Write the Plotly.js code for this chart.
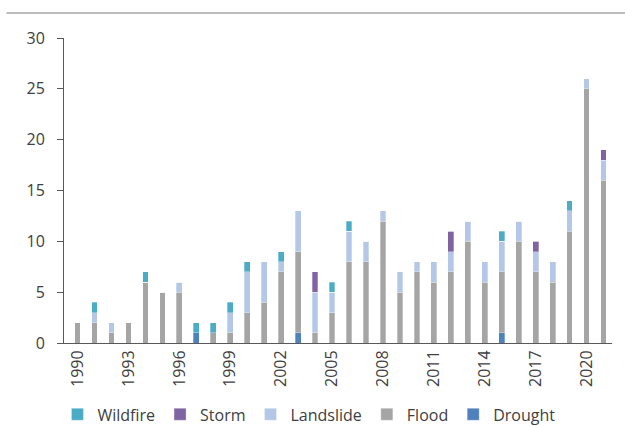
<!DOCTYPE html>
<html>
<head>
<meta charset="utf-8">
<script src="https://cdn.plot.ly/plotly-3.0.1.min.js"></script>
<style>html,body{margin:0;padding:0;background:#fff;}#chart{width:625px;height:427px;}</style>
</head>
<body>
<div id="chart"></div>
<script>
const years = [1990,1991,1992,1993,1994,1995,1996,1997,1998,1999,2000,2001,2002,2003,2004,2005,2006,2007,2008,2009,2010,2011,2012,2013,2014,2015,2016,2017,2018,2019,2020,2021];
const drought   = [0,0,0,0,0,0,0,1,0,0,0,0,0,1,0,0,0,0,0,0,0,0,0,0,0,1,0,0,0,0,0,0];
const flood     = [2,2,1,2,6,5,5,0,1,1,3,4,7,8,1,3,8,8,12,5,7,6,7,10,6,6,10,7,6,11,25,16];
const landslide = [0,1,1,0,0,0,1,0,0,2,4,4,1,4,4,2,3,2,1,2,1,2,2,2,2,3,2,2,2,2,1,2];
const storm     = [0,0,0,0,0,0,0,0,0,0,0,0,0,0,2,0,0,0,0,0,0,0,2,0,0,0,0,1,0,0,0,1];
const wildfire  = [0,1,0,0,1,0,0,1,1,1,1,0,1,0,0,1,1,0,0,0,0,0,0,0,0,1,0,0,0,1,0,0];
const tickYears = [1990,1993,1996,1999,2002,2005,2008,2011,2014,2017,2020];

const series = [
  {name:'Drought', y:drought, color:'#4F81BD'},
  {name:'Flood', y:flood, color:'#A5A5A5'},
  {name:'Landslide', y:landslide, color:'#B4C7E7'},
  {name:'Storm', y:storm, color:'#8064A2'},
  {name:'Wildfire', y:wildfire, color:'#4BACC6'}
];
const traces = series.map(s => ({
  type:'bar', name:s.name, x:years, y:s.y, width:0.34,
  marker:{color:s.color, line:{width:0.5, color:'rgba(255,255,255,0.6)'}},
  hoverinfo:'x+y+name'
}));

const layout = {
  width:625, height:427,
  margin:{l:64, r:13, t:38, b:84, autoexpand:false},
  paper_bgcolor:'#fff', plot_bgcolor:'#fff',
  barmode:'stack', bargap:0,
  font:{family:'"Open Sans", "Noto Sans", sans-serif', size:16, color:'#404040'},
  xaxis:{
    range:[1989.2, 2021.5], tickmode:'array', tickvals:tickYears, ticktext:tickYears.map(String),
    tickangle:-90, showgrid:false, zeroline:false, showline:true, linecolor:'#595959', linewidth:1,
    ticks:'', tickfont:{size:16, color:'#404040'}, automargin:false
  },
  yaxis:{
    range:[0,30], dtick:5, showgrid:false, zeroline:false, showline:true, linecolor:'#595959', linewidth:1,
    ticks:'outside', ticklen:6, tickcolor:'#595959', tickfont:{size:16, color:'#404040'},
    ticklabelstandoff:9, automargin:false
  },
  legend:{orientation:'h', traceorder:'reversed', x:0.447, xanchor:'center', y:-0.234, yanchor:'middle',
    font:{size:16, color:'#404040'}, itemwidth:30},
  showlegend:true,
  shapes:[{type:'line', xref:'paper', yref:'paper', x0:-0.105, x1:1.03, y0:1.082, y1:1.082,
    line:{color:'#A6A6A6', width:1.5}}]
};
Plotly.newPlot('chart', traces, layout, {displayModeBar:false, staticPlot:true});
</script>
</body>
</html>
